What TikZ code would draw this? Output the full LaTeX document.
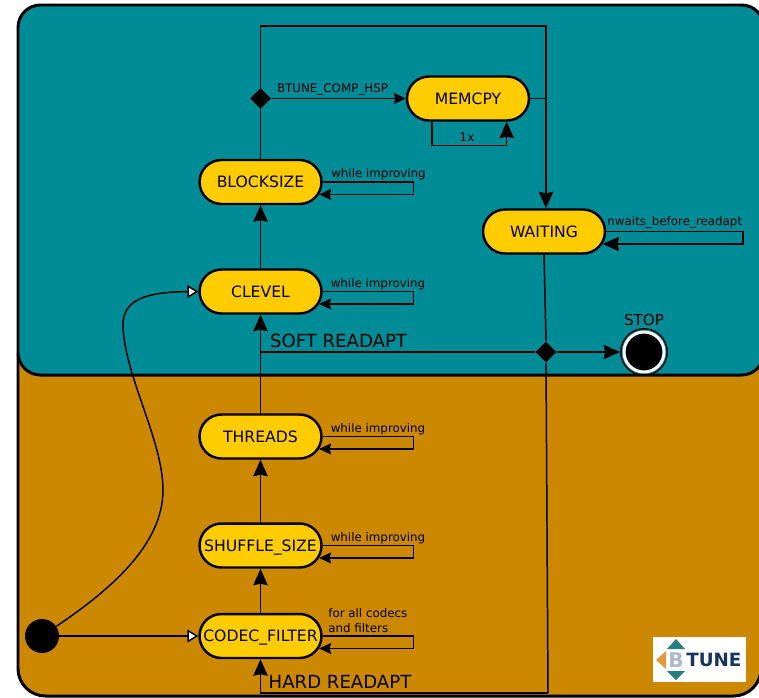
\documentclass[tikz,border=0pt]{standalone}
\usepackage{fontspec}
\setmainfont{DejaVu Sans}
\usepackage{tikz}
\usetikzlibrary{positioning}
\usetikzlibrary{arrows.meta}
\usetikzlibrary{shapes.misc,shapes.geometric}
\definecolor{softteal}{RGB}{0,140,150}
\definecolor{hardorange}{RGB}{204,136,0}
\definecolor{stateyellow}{RGB}{255,204,0}
\definecolor{logonavy}{RGB}{24,52,92}
\definecolor{logoteal}{RGB}{40,125,125}
\definecolor{logoorange}{RGB}{225,155,60}
\tikzset{
  state/.style={draw=black,line width=1.4pt,fill=stateyellow,rounded rectangle,minimum width=2.44cm,minimum height=0.88cm,inner sep=0pt,text height=6.5pt,text depth=0pt,font=\fontsize{8.9}{10}\selectfont},
  link/.style={draw=black,line width=0.85pt},
  bigarrow/.style={-{Stealth[length=0.33cm,width=0.29cm,inset=0.03cm]}},
  smallarrow/.style={-{Stealth[length=0.24cm,width=0.22cm,inset=0.03cm]}},
  openarrow/.style={-{Triangle[fill=white,length=0.22cm,width=0.26cm]}},
  branch/.style={diamond,fill=black,minimum size=0.42cm,inner sep=0pt},
  note/.style={font=\fontsize{6.75}{8.5}\selectfont,inner sep=0pt},
  readapt/.style={font=\fontsize{10.3}{12}\selectfont,inner sep=0pt},
}
\begin{document}
\begin{tikzpicture}[x=0.02cm,y=-0.02cm]
\useasboundingbox (0,0) rectangle (759,697);
\draw[line width=1.7pt,fill=hardorange,rounded corners=0.55cm] (18,330) rectangle (761,696);
\draw[line width=1.7pt,fill=softteal,rounded corners=0.45cm] (18,5) rectangle (764,375);
% states
\node[state] (memcpy) at (468,98.5) {MEMCPY};
\node[state] (blocksize) at (260.5,182) {BLOCKSIZE};
\node[state] (clevel) at (260.5,291.5) {CLEVEL};
\node[state] (threads) at (260.5,436.5) {THREADS};
\node[state] (shuffle) at (260.5,545.5) {SHUFFLE\_SIZE};
\node[state] (codec) at (260.5,636) {CODEC\_FILTER};
\node[state] (waiting) at (544,231.5) {WAITING};
\node[branch] (hsp) at (260.5,98.5) {};
\node[branch] (soft) at (546,352) {};
\node[circle,fill=black,minimum size=0.68cm,inner sep=0pt] (start) at (42,636) {};
\node[circle,fill=black,draw=white,line width=1.7pt,minimum size=0.8cm,inner sep=0pt] (stopin) at (644,352) {};
\node[circle,draw=black,line width=0.8pt,minimum size=0.93cm,inner sep=0pt] (stop) at (644,352) {};
\node[font=\fontsize{8.6}{10}\selectfont,inner sep=0pt] (stoplabel) at (644,320) {STOP};
% free corners of the long lines
\coordinate (topright) at (546,26);
\coordinate (hardright) at (548,693);
\coordinate (softleft) at (260.5,352);
\coordinate (bendlow) at (163,490);
\coordinate (bendhigh) at (123,325);
\draw[link,bigarrow] (clevel.north) -- (blocksize.south);
\draw[link] (blocksize.north) -- (hsp.south);
\draw[link,bigarrow] (hsp.north) |- (topright) -- (waiting.north -| topright);
\draw[link,smallarrow] (hsp.east) -- (memcpy.west);
\draw[link] (memcpy.east) -- (memcpy.east -| topright);
\draw[link,bigarrow] (memcpy.-147.1) -- ++(0,24) -| (memcpy.-31.4);
\draw[link,smallarrow] (blocksize.east) -- ++(91,0) |- (blocksize.-12);
\draw[link,smallarrow] (clevel.east) -- ++(91,0) |- (clevel.-12);
\draw[link,smallarrow] (threads.east) -- ++(91,0) |- (threads.-12);
\draw[link,smallarrow] (shuffle.east) -- ++(91,0) |- (shuffle.-12);
\draw[link,smallarrow] (codec.east) -- ++(91,0) |- (codec.-12);
\draw[link,bigarrow] (waiting.east) -- ++(137,0) |- (waiting.-12);
\draw[link] (waiting.south) -- (soft.north);
\draw[link,bigarrow] (soft.east) -- (stop.west);
\draw[link] (soft.west) -- (softleft);
\draw[link,bigarrow] (threads.north) -- (clevel.south);
\draw[link,bigarrow] (shuffle.north) -- (threads.south);
\draw[link,bigarrow] (codec.north) -- (shuffle.south);
\draw[link] (soft.south) -- (hardright);
\draw[link,bigarrow] (hardright) -| (codec.south);
\draw[link,openarrow] (start.east) -- (codec.west);
\draw[link,openarrow] (start) .. controls (110,590) and (163,545) .. (bendlow) .. controls (163,440) and (124,375) .. (bendhigh) .. controls (123,300) and (145,292) .. (clevel.west);
% labels
\node[note] (hsplabel) at (332.5,89) {BTUNE\_COMP\_HSP};
\node[note] (oncelabel) at (467,137) {1x};
\node[note] (blocklabel) at (378.5,174.5) {while improving};
\node[note] (clevellabel) at (378,284.5) {while improving};
\node[note] (threadslabel) at (378,429.5) {while improving};
\node[note] (shufflelabel) at (378,538.5) {while improving};
\node[note,align=left,anchor=west] (codeclabel) at (328,621) {for all codecs\\and filters};
\node[note,anchor=west] (waitlabel) at (607,222) {nwaits\_before\_readapt};
\node[readapt] (softlabel) at (338.5,341) {SOFT READAPT};
\node[readapt] (hardlabel) at (340,681.5) {HARD READAPT};
% logo
\fill[white] (653,637) rectangle (746,682);
\fill[logoteal] (676,639) -- (685,649) -- (667,649) -- cycle;
\fill[logoteal] (676,680) -- (685,671) -- (667,671) -- cycle;
\fill[logoorange] (656,660) -- (666,651) -- (666,669) -- cycle;
\node[inner sep=0pt,anchor=west,font=\fontsize{11.5}{12}\selectfont\bfseries,text=logonavy!35] (logob) at (668,660) {B};
\node[inner sep=0pt,anchor=west,font=\fontsize{10.4}{12}\selectfont\bfseries,text=logonavy] (logotune) at (686,660) {TUNE};
\end{tikzpicture}
\end{document}
